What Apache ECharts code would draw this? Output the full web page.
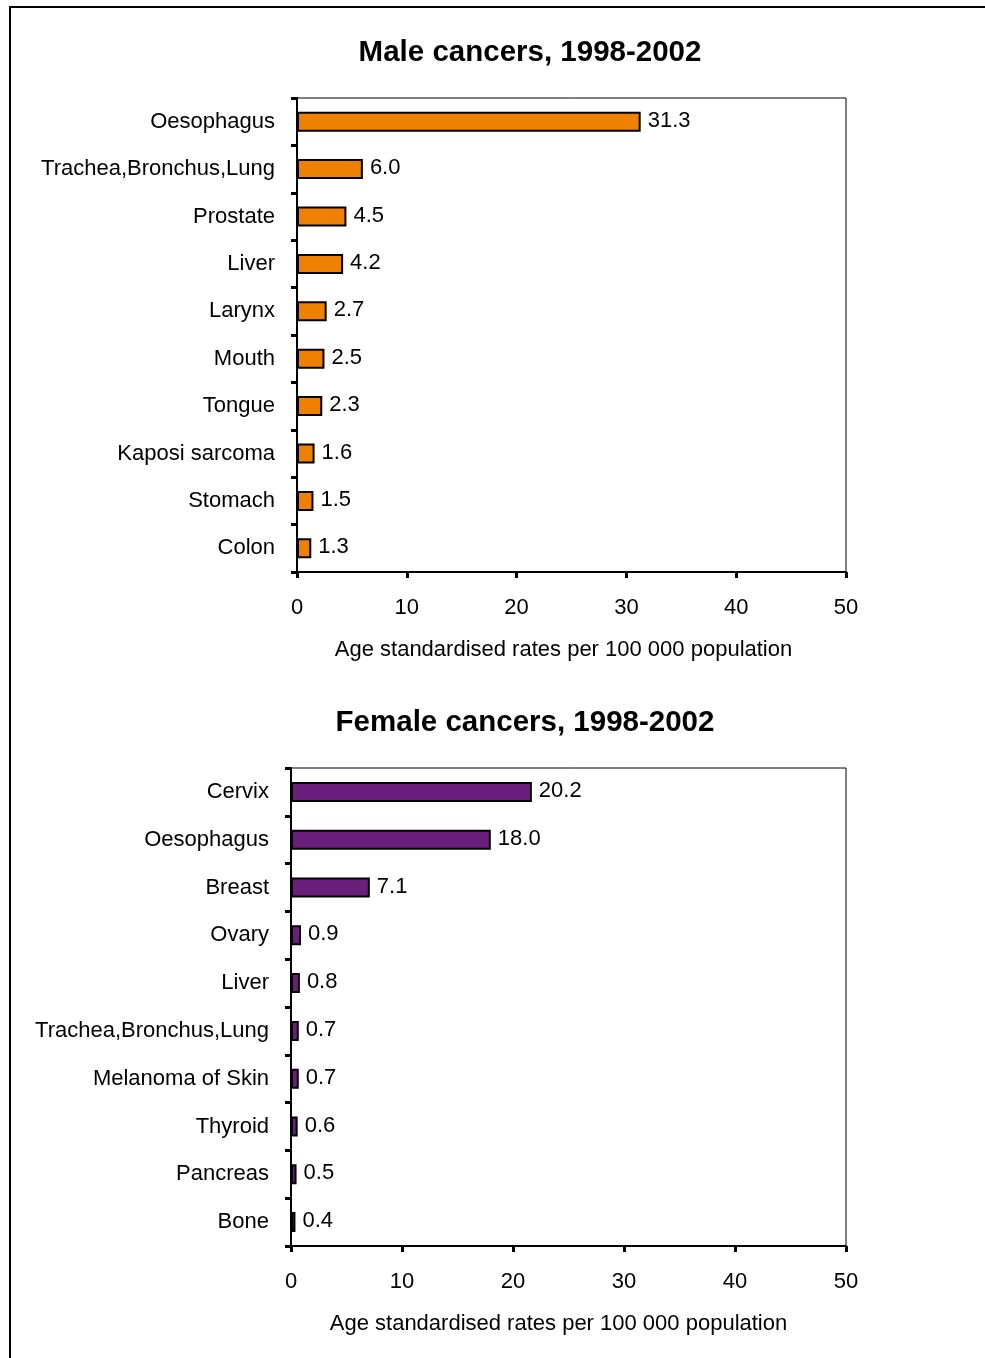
<!DOCTYPE html>
<html>
<head>
<meta charset="utf-8">
<script src="https://cdn.jsdelivr.net/npm/echarts@6/dist/echarts.min.js"></script>
<style>
html,body{margin:0;padding:0;background:#fff;}
#c{width:985px;height:1358px;}
</style>
</head>
<body>
<div id="c"></div>
<script>
const maleTitle = 'Male cancers, 1998-2002';
const femaleTitle = 'Female cancers, 1998-2002';
const axisTitle = 'Age standardised rates per 100 000 population';
const xTicks = [0, 10, 20, 30, 40, 50];

const maleCategories = ['Oesophagus','Trachea,Bronchus,Lung','Prostate','Liver','Larynx','Mouth','Tongue','Kaposi sarcoma','Stomach','Colon'];
const maleValues = [31.3, 6.0, 4.5, 4.2, 2.7, 2.5, 2.3, 1.6, 1.5, 1.3];
const maleLabels = ['31.3','6.0','4.5','4.2','2.7','2.5','2.3','1.6','1.5','1.3'];

const femaleCategories = ['Cervix','Oesophagus','Breast','Ovary','Liver','Trachea,Bronchus,Lung','Melanoma of Skin','Thyroid','Pancreas','Bone'];
// bar lengths as drawn in the picture (Cervix bar is drawn longer than its printed label)
const femaleValues = [21.7, 18.0, 7.1, 0.9, 0.8, 0.7, 0.7, 0.6, 0.5, 0.4];
const femaleLabels = ['20.2','18.0','7.1','0.9','0.8','0.7','0.7','0.6','0.5','0.4'];

const FONT = 'Liberation Sans, Arial, Helvetica, sans-serif';
const chart = echarts.init(document.getElementById('c'), null, {renderer:'canvas'});

function xAxisCfg(gridIndex, shiftLeft){
  return {
    type:'value', gridIndex, min:xTicks[0], max:xTicks[xTicks.length-1], interval:10,
    axisLine:{show:true, lineStyle:{color:'#000', width:2}},
    axisTick:{show:true, length:6, lineStyle:{color:'#000', width:3}},
    splitLine:{show:false},
    axisLabel:{color:'#000', fontSize:22, fontFamily:FONT, margin:25},
    name:axisTitle, nameLocation:'middle', nameGap:67,
    nameTextStyle:{color:'#000', fontSize:22, fontFamily:FONT, padding:[0, shiftLeft, 0, 0]}
  };
}
function yAxisCfg(gridIndex, cats, margin){
  return {
    type:'category', gridIndex, data:cats, inverse:true,
    axisLine:{show:true, lineStyle:{color:'#000', width:2}},
    axisTick:{show:true, length:6, lineStyle:{color:'#000', width:3}},
    axisLabel:{color:'#000', fontSize:22, fontFamily:FONT, margin:margin}
  };
}
function barSeries(idx, vals, labels, color){
  return {
    type:'bar', xAxisIndex:idx, yAxisIndex:idx, data:vals, barWidth:20,
    itemStyle:{color:color, borderColor:'#000', borderWidth:2},
    label:{show:true, position:'right', distance:7, color:'#000', fontSize:22, fontFamily:FONT,
      offset:[0,-1],
      formatter:(p)=>labels[p.dataIndex]},
    animation:false
  };
}

chart.setOption({
  animation:false,
  backgroundColor:'#fff',
  grid:[
    {left:297, top:98, width:549, height:474, show:true, borderColor:'#000', borderWidth:1, backgroundColor:'transparent'},
    {left:291, top:768, width:555, height:478, show:true, borderColor:'#000', borderWidth:1, backgroundColor:'transparent'}
  ],
  xAxis:[xAxisCfg(0, 16), xAxisCfg(1, 20)],
  yAxis:[yAxisCfg(0, maleCategories, 22), yAxisCfg(1, femaleCategories, 22)],
  series:[
    barSeries(0, maleValues, maleLabels, '#EE8100'),
    barSeries(1, femaleValues, femaleLabels, '#6B1F7C')
  ],
  graphic:[
    {type:'rect', shape:{x:10, y:7, width:1000, height:1400}, style:{fill:'none', stroke:'#000', lineWidth:2}, z:-1},
    {type:'text', x:530, y:53, style:{text:maleTitle, font:'bold 29.5px '+FONT, fill:'#000', textAlign:'center', textVerticalAlign:'middle'}},
    {type:'text', x:525, y:723, style:{text:femaleTitle, font:'bold 29.5px '+FONT, fill:'#000', textAlign:'center', textVerticalAlign:'middle'}}
  ]
});
</script>
</body>
</html>
